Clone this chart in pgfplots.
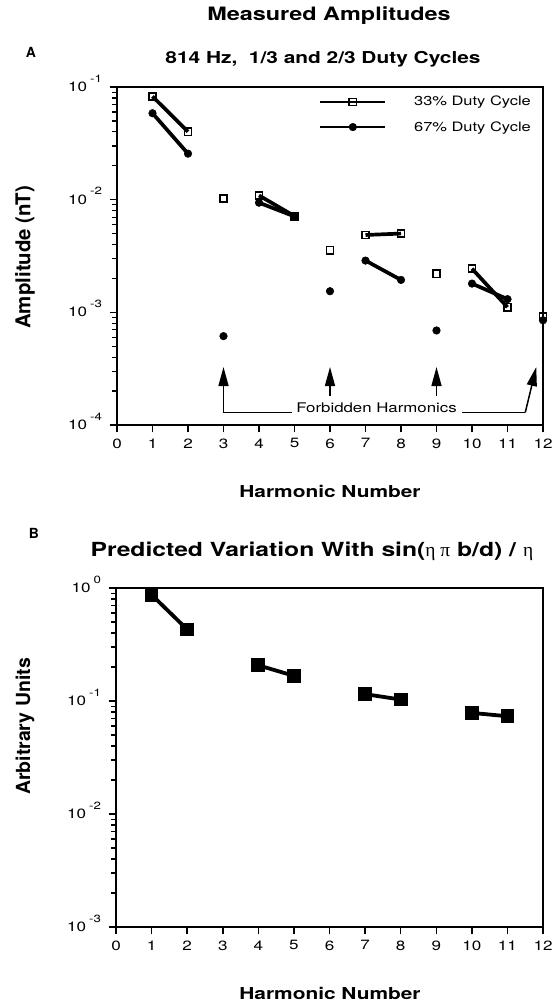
\documentclass[border=0pt]{standalone}
\usepackage{fontspec}
\setmainfont[FakeStretch=1.27]{TeX Gyre Heros}
\newfontfamily\plainheros{TeX Gyre Heros}
\newfontfamily\symb{Liberation Serif}
\usepackage{pgfplots}
\pgfplotsset{compat=1.18}
\usetikzlibrary{arrows.meta}

\begin{document}
\begin{tikzpicture}
\useasboundingbox (0bp,0bp) rectangle (559bp,1004bp);

% ---------- Panel A ----------
\begin{axis}[
  ymode=log, log basis y=10,
  scale only axis, anchor=south west,
  at={(117bp,579bp)}, width=426bp, height=338bp,
  xmin=0, xmax=12, ymin=1e-4, ymax=1e-1,
  xtick={0,1,...,12},
  yminorticks=true,
  axis line style={line width=1.8bp},
  tick align=outside, xtick pos=left, ytick pos=left,
  major tick length=7.5bp, minor tick length=5bp,
  major tick style={black, line width=1.5bp},
  minor tick style={black, line width=1.2bp},
  tick label style={font=\fontsize{13.5}{15}\selectfont},
  xticklabel style={yshift=-2.5bp},
  yticklabel style={xshift=-4bp},
  yticklabel={10\hspace{3bp}\raisebox{9.5bp}[0pt][0pt]{\fontsize{10.5}{11}\selectfont\pgfmathparse{int(round(\tick))}\pgfmathresult}},
  clip mode=individual,
  unbounded coords=jump,
  legend style={at={(rel axis cs:0.475,0.973)}, anchor=north west, draw=none, fill=none,
    inner sep=0pt, row sep=14bp, font=\fontsize{13}{15}\selectfont,
    nodes={inner sep=0pt},
    /tikz/every odd column/.append style={column sep=28bp}},
  legend cell align=left,
  legend image code/.code={\draw[mark repeat=2, mark phase=2, #1, line width=1.6bp] plot coordinates {(0bp,0bp) (32.5bp,0bp) (65bp,0bp)};},
  /pgf/number format/assume math mode=true,
]
\addplot[black, line width=3.7bp, mark=square, mark size=3.6bp, mark options={solid, fill=white, line width=1.6bp}]
  coordinates {(1,0.0825)(2,0.0401)(2.5,nan)(3,0.0102)(3.5,nan)(4,0.0109)(5,0.00714)(5.5,nan)(6,0.00356)(6.5,nan)(7,0.00486)(8,0.0050)(8.5,nan)(9,0.0022)(9.5,nan)(10,0.00244)(11,0.00111)(11.5,nan)(12,0.00092)};
\addlegendentry{33\% Duty Cycle}
\addplot[black, line width=3.7bp, mark=*, mark size=3.8bp, mark options={solid, fill=black, line width=0.5bp}]
  coordinates {(1,0.0585)(2,0.0256)(2.5,nan)(3,0.000615)(3.5,nan)(4,0.0094)(5,0.0071)(5.5,nan)(6,0.00154)(6.5,nan)(7,0.00288)(8,0.00194)(8.5,nan)(9,0.00069)(9.5,nan)(10,0.0018)(11,0.00131)(11.5,nan)(12,0.00085)};
\addlegendentry{67\% Duty Cycle}

% Forbidden harmonics annotation
\draw[line width=1.5bp, -{Triangle[length=19bp,width=10bp]}] (axis cs:3,1.29e-4) -- (axis cs:3,3.27e-4);
\draw[line width=1.5bp] (axis cs:3,1.29e-4) -- (axis cs:4.92,1.29e-4);
\draw[line width=1.5bp, -{Triangle[length=19bp,width=10bp]}] (axis cs:6,1.8e-4) -- (axis cs:6,3.27e-4);
\draw[line width=1.5bp, -{Triangle[length=19bp,width=10bp]}] (axis cs:9,1.8e-4) -- (axis cs:9,3.27e-4);
\draw[line width=1.5bp] (axis cs:9.72,1.29e-4) -- (axis cs:11.5,1.29e-4);
\draw[line width=1.5bp, -{Triangle[length=19bp,width=10bp]}] (axis cs:11.5,1.29e-4) -- (axis cs:11.81,3.27e-4);
\node[anchor=base, inner sep=0pt, font=\fontsize{13.3}{15}\selectfont] at (axis cs:7.31,1.29e-4) {Forbidden Harmonics};
\end{axis}

% ---------- Panel B ----------
\begin{axis}[
  ymode=log, log basis y=10,
  scale only axis, anchor=south west,
  at={(116bp,77bp)}, width=427bp, height=339bp,
  xmin=0, xmax=12, ymin=1e-3, ymax=1,
  xtick={0,1,...,12},
  yminorticks=true,
  axis line style={line width=1.8bp},
  tick align=outside, xtick pos=left, ytick pos=left,
  major tick length=7.5bp, minor tick length=5bp,
  major tick style={black, line width=1.5bp},
  minor tick style={black, line width=1.2bp},
  tick label style={font=\fontsize{13.5}{15}\selectfont},
  xticklabel style={yshift=-2.5bp},
  yticklabel style={xshift=-4bp},
  yticklabel={10\hspace{3bp}\raisebox{9.5bp}[0pt][0pt]{\fontsize{10.5}{11}\selectfont\pgfmathparse{int(round(\tick))}\pgfmathresult}},
  clip mode=individual,
  unbounded coords=jump,
  /pgf/number format/assume math mode=true,
]
\addplot[black, line width=3.8bp, mark=square*, mark size=5bp, mark options={solid}]
  coordinates {(1,0.871)(2,0.430)(3,nan)(4,0.207)(5,0.167)(6,nan)(7,0.115)(8,0.103)(9,nan)(10,0.0785)(11,0.0733)};
\end{axis}

% ---------- Titles and labels ----------
\node[anchor=base, font=\bfseries\fontsize{18.5}{20}\selectfont] at (329bp,983bp) {Measured Amplitudes};
\node[anchor=base, font=\plainheros\bfseries\fontsize{14}{15}\selectfont] at (31bp,946bp) {A};
\node[anchor=base, font=\bfseries\fontsize{16.5}{18}\selectfont] at (323bp,940bp) {814 Hz,\ \ 1/3 and 2/3 Duty Cycles};
\node[rotate=90, font=\plainheros\bfseries\fontsize{20.5}{22}\selectfont] at (25bp,746.5bp) {Amplitude (nT)};
\node[anchor=base, font=\bfseries\fontsize{16.5}{18}\selectfont] at (330bp,506bp) {Harmonic Number};

\node[anchor=base, font=\plainheros\bfseries\fontsize{14}{15}\selectfont] at (34bp,465bp) {B};
\node[anchor=base, font=\fontsize{19.5}{21}\selectfont] at (312bp,447bp) {\textbf{Predicted Variation With sin(}{\symb η π}\textbf{ b/d) / }{\symb η}};
\node[rotate=90, font=\plainheros\bfseries\fontsize{19.5}{22}\selectfont] at (25bp,277.5bp) {Arbitrary Units};
\node[anchor=base, font=\bfseries\fontsize{16.5}{18}\selectfont] at (330bp,5bp) {Harmonic Number};
\end{tikzpicture}
\end{document}
